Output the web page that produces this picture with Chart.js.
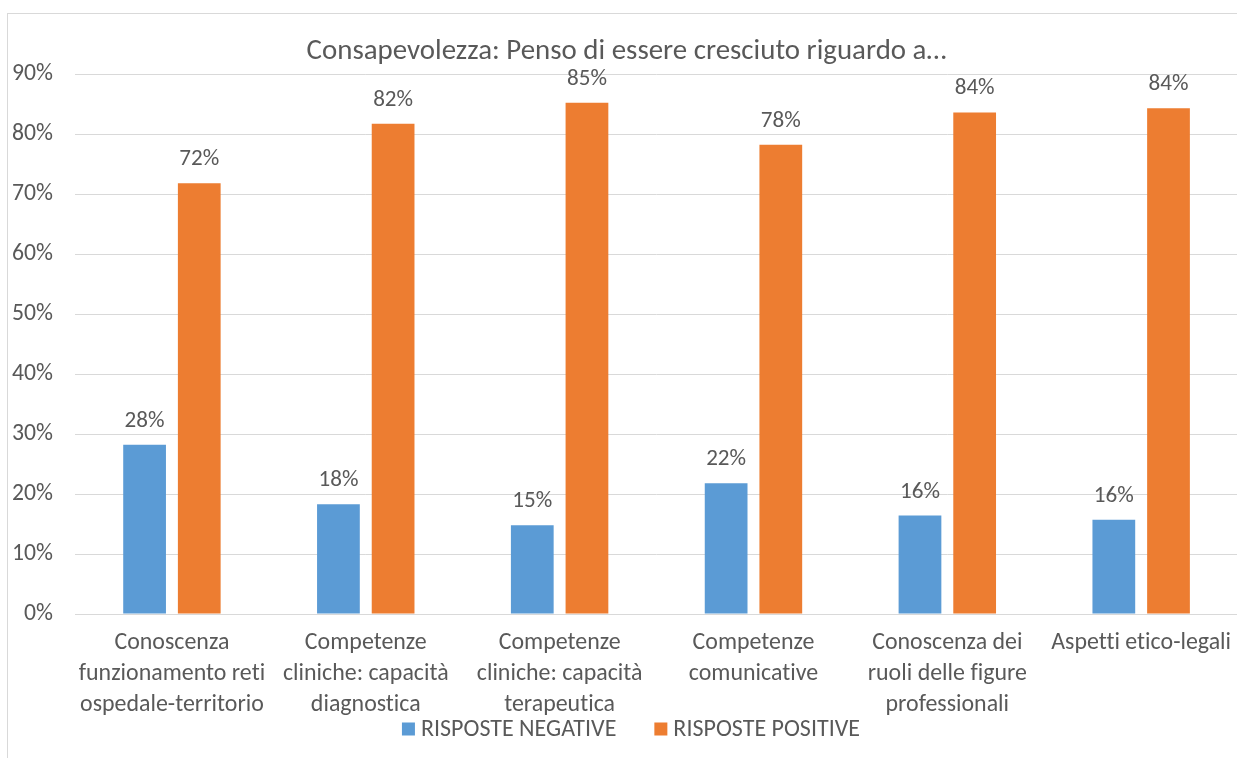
<!DOCTYPE html>
<html>
<head>
<meta charset="utf-8">
<script src="https://cdn.jsdelivr.net/npm/chart.js@4.4.1/dist/chart.umd.min.js"></script>
<style>
  html, body { margin: 0; padding: 0; background: #fff; overflow: hidden; width: 1237px; height: 758px; }
  #wrap { position: absolute; left: 7px; top: 13px; width: 1240px; height: 780px;
          border-top: 1px solid #D9D9D9; border-left: 1px solid #D9D9D9; }
  canvas { display: block; font-variant-ligatures: none; }
</style>
</head>
<body>
<div id="wrap"><canvas id="c"></canvas></div>
<script>
// ---- data ----
const chartTitle = 'Consapevolezza: Penso di essere cresciuto riguardo a…';
const categories = [
  ['Conoscenza', 'funzionamento reti', 'ospedale-territorio'],
  ['Competenze', 'cliniche: capacità', 'diagnostica'],
  ['Competenze', 'cliniche: capacità', 'terapeutica'],
  ['Competenze', 'comunicative'],
  ['Conoscenza dei', 'ruoli delle figure', 'professionali'],
  ['Aspetti etico-legali']
];
const seriesNames = ['RISPOSTE NEGATIVE', 'RISPOSTE POSITIVE'];
const negativeValues = [28.2, 18.3, 14.8, 21.8, 16.4, 15.7];
const positiveValues = [71.8, 81.7, 85.2, 78.2, 83.6, 84.3];
const yMin = 0, yMax = 90, yStep = 10;

// ---- style ----
const FAMILY = "Carlito, Lato, 'Open Sans', sans-serif";
const TEXT = '#595959';
const GRID = '#D9D9D9';
const BLUE = '#5B9BD5';
const ORANGE = '#ED7D31';

function noLig(ctx) {
  try { ctx.textRendering = 'optimizeSpeed'; } catch (e) {}
  try { ctx.letterSpacing = '0.01px'; } catch (e) {}
}

const mctx = document.createElement('canvas').getContext('2d');
noLig(mctx);
function fit(text, target) {
  mctx.font = '100px ' + FAMILY;
  return Math.round(target * 100 / mctx.measureText(text).width * 10) / 10;
}
const titleSize = fit(chartTitle, 640);
const tickSize = fit('90%', 41);
const labelSize = fit('72%', 40);
const xSize = fit('funzionamento reti', 186);
const legendSize = fit(seriesNames[0], 195);

// layout targets (canvas coords)
const W = 1237;
const plotLeft = 67, plotTop = 60, plotBottom = 600;
const xAxisH = 140;
const H = plotBottom + xAxisH;
const titleLH = titleSize * 1.2;
const titleCenter = 38;
const legendCenterX = 623, legendCenterY = 715;

const cv = document.getElementById('c');
cv.width = W; cv.height = H;
cv.style.width = W + 'px'; cv.style.height = H + 'px';

const noLigatures = {
  id: 'noLigatures',
  beforeDraw(chart) { noLig(chart.ctx); }
};

const dataLabels = {
  id: 'dataLabels',
  afterDatasetsDraw(chart) {
    const ctx = chart.ctx;
    ctx.save();
    ctx.font = labelSize + 'px ' + FAMILY;
    ctx.fillStyle = TEXT;
    ctx.textAlign = 'center';
    ctx.textBaseline = 'alphabetic';
    chart.data.datasets.forEach((ds, i) => {
      chart.getDatasetMeta(i).data.forEach((bar, j) => {
        ctx.fillText(Math.round(ds.data[j]) + '%', bar.x, bar.y - 18);
      });
    });
    ctx.restore();
  }
};

const bottomLegend = {
  id: 'bottomLegend',
  afterDraw(chart) {
    const ctx = chart.ctx;
    const box = 13, gap = 6, spacing = 38;
    ctx.save();
    ctx.font = legendSize + 'px ' + FAMILY;
    const items = chart.data.datasets.map(ds => ({ text: ds.label, color: ds.backgroundColor, w: ctx.measureText(ds.label).width }));
    const total = items.reduce((s, it) => s + box + gap + it.w, 0) + spacing * (items.length - 1);
    let x = legendCenterX - total / 2;
    ctx.textBaseline = 'middle';
    ctx.textAlign = 'left';
    items.forEach(it => {
      ctx.fillStyle = it.color;
      ctx.fillRect(x, legendCenterY - box / 2, box, box);
      ctx.fillStyle = TEXT;
      ctx.fillText(it.text, x + box + gap, legendCenterY + 1);
      x += box + gap + it.w + spacing;
    });
    ctx.restore();
  }
};

new Chart(cv, {
  type: 'bar',
  data: {
    labels: categories,
    datasets: [
      { label: seriesNames[0], data: negativeValues, backgroundColor: BLUE,
        categoryPercentage: 110 / 195, barPercentage: 43 / 55 },
      { label: seriesNames[1], data: positiveValues, backgroundColor: ORANGE,
        categoryPercentage: 110 / 195, barPercentage: 43 / 55 }
    ]
  },
  options: {
    responsive: false,
    animation: false,
    devicePixelRatio: 1,
    layout: { padding: 0 },
    plugins: {
      title: {
        display: true,
        text: chartTitle,
        color: TEXT,
        font: { family: FAMILY, size: titleSize, weight: 'normal', lineHeight: 1.2 },
        padding: { top: titleCenter - titleLH / 2, bottom: plotTop - titleCenter - titleLH / 2 }
      },
      legend: { display: false },
      tooltip: { enabled: false }
    },
    scales: {
      x: {
        grid: { display: false, drawTicks: false },
        border: { display: true, color: GRID, width: 1 },
        ticks: {
          color: TEXT, padding: 14, maxRotation: 0, autoSkip: false,
          font: { family: FAMILY, size: xSize, lineHeight: 1.29 }
        },
        afterFit(scale) { scale.height = xAxisH; }
      },
      y: {
        min: yMin, max: yMax,
        grid: { color: GRID, lineWidth: 1, drawTicks: false },
        border: { display: false },
        ticks: {
          stepSize: yStep, color: TEXT, padding: 22,
          font: { family: FAMILY, size: tickSize },
          callback: v => v + '%'
        },
        afterFit(scale) { scale.width = plotLeft; }
      }
    }
  },
  plugins: [noLigatures, dataLabels, bottomLegend]
});
</script>
</body>
</html>
